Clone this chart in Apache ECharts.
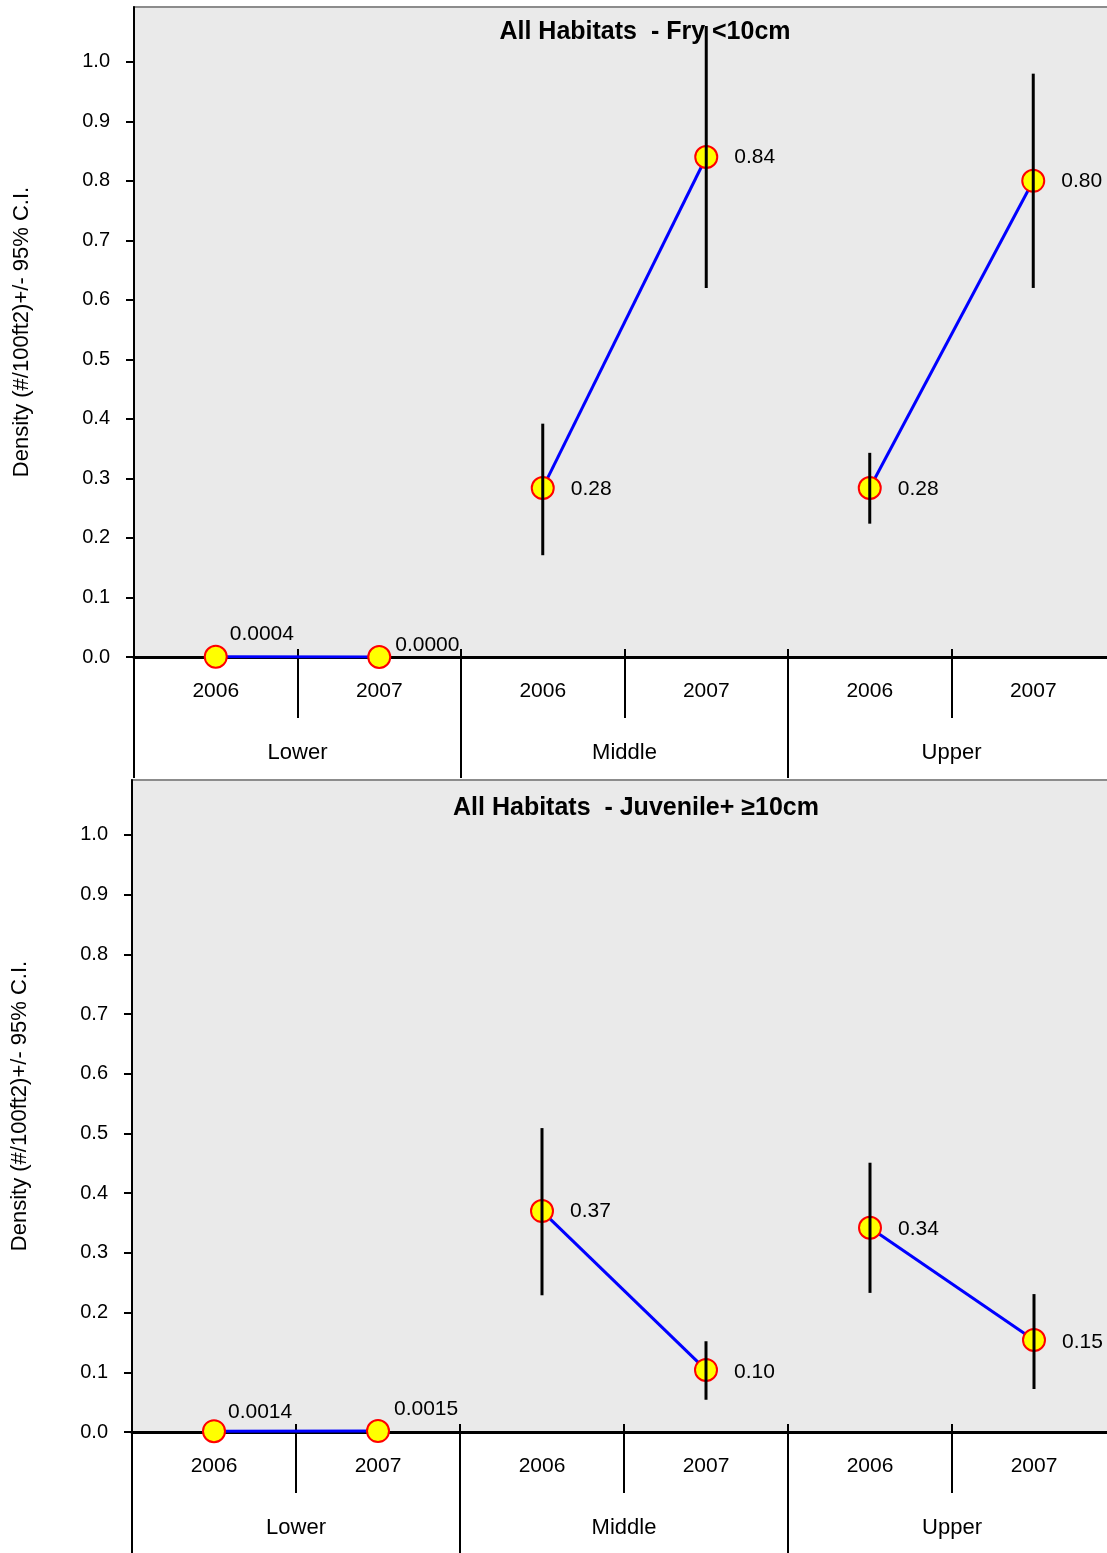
<!DOCTYPE html>
<html>
<head>
<meta charset="utf-8">
<script src="https://cdn.jsdelivr.net/npm/echarts@6/dist/echarts.min.js"></script>
<style>
html,body{margin:0;padding:0;background:#fff;overflow:hidden;}
#chart{width:1116px;height:1553px;}
</style>
</head>
<body>
<div id="chart"></div>
<script>
// ---- data ----
const categories = ['2006', '2007', '2006', '2007', '2006', '2007'];
const groups = ['Lower', 'Middle', 'Upper'];
const groupOfCategory = [0, 0, 1, 1, 2, 2];
const yTicks = [0.0, 0.1, 0.2, 0.3, 0.4, 0.5, 0.6, 0.7, 0.8, 0.9, 1.0];
const titles = ['All Habitats  - Fry <10cm', 'All Habitats  - Juvenile+ \u226510cm'];
const yAxisName = 'Density (#/100ft2)+/- 95% C.I.';

const fryMean = [0.0004, 0.0000, 0.284, 0.840, 0.284, 0.800];
const fryLow  = [null, null, 0.171, 0.620, 0.224, 0.620];
const fryHigh = [null, null, 0.392, 1.060, 0.343, 0.980];

const juvMean = [0.0014, 0.0015, 0.370, 0.104, 0.342, 0.154];
const juvLow  = [null, null, 0.229, 0.054, 0.233, 0.072];
const juvHigh = [null, null, 0.509, 0.152, 0.451, 0.231];

// ---- layout / style ----
const FONT = "'Liberation Sans', Arial, sans-serif";
const grids = [
  { left: 134, top: 7, width: 981, height: 650 },
  { left: 132, top: 780, width: 984, height: 652 }
];
const titlePos = [{ x: 640, y: 15 }, { x: 631, y: 791 }];
// label offsets: lower group labels sit above-right of the point
const labelOffsets = [
  [[2, -23], [4, -12], [16, 1], [16, 0], [16, 1], [16, 0]],
  [[2, -19], [4, -22], [16, 0], [16, 2], [16, 1], [16, 2]]
];
const YMAX = 1.092;

const panels = [
  { mean: fryMean, low: fryLow, high: fryHigh },
  { mean: juvMean, low: juvLow, high: juvHigh }
];

const option = {
  animation: false,
  backgroundColor: '#ffffff',
  textStyle: { fontFamily: FONT },
  title: titles.map((t, i) => ({
    text: t,
    left: titlePos[i].x,
    top: titlePos[i].y,
    textAlign: 'center',
    textStyle: { fontFamily: FONT, fontSize: 25, fontWeight: 'bold', color: '#000' }
  })),
  grid: grids.map(g => Object.assign({
    show: true, backgroundColor: '#EAEAEA', borderColor: '#8c8c8c', borderWidth: 2
  }, g)),
  xAxis: [],
  yAxis: [],
  series: []
};

panels.forEach((p, gi) => {
  const base = gi * 3;
  // years axis: outward ticks, labels
  option.xAxis.push({
    gridIndex: gi, type: 'category', data: categories, position: 'bottom', offset: 0,
    boundaryGap: true,
    axisLine: { show: true, onZero: false, lineStyle: { color: '#000', width: 3 } },
    axisTick: { show: true, length: 61, interval: 0, lineStyle: { color: '#000', width: 2 } },
    axisLabel: { show: true, interval: 0, margin: 24, fontSize: 21, color: '#000', fontFamily: FONT },
    splitLine: { show: false }
  });
  // years axis: short inward ticks
  option.xAxis.push({
    gridIndex: gi, type: 'category', data: categories, position: 'bottom', offset: 0,
    boundaryGap: true,
    axisLine: { show: false },
    axisTick: { show: true, inside: true, length: 8, interval: 0, lineStyle: { color: '#000', width: 2 } },
    axisLabel: { show: false },
    splitLine: { show: false }
  });
  // group axis
  option.xAxis.push({
    gridIndex: gi, type: 'category', data: groups, position: 'bottom', offset: 0,
    boundaryGap: true,
    axisLine: { show: false },
    axisTick: { show: true, length: 121, interval: 0, lineStyle: { color: '#000', width: 2 } },
    axisLabel: { show: true, interval: 0, margin: 85, fontSize: 22, color: '#000', fontFamily: FONT },
    splitLine: { show: false }
  });
  option.yAxis.push({
    gridIndex: gi, type: 'value', min: 0, max: YMAX,
    name: yAxisName, nameLocation: 'middle', nameGap: 101, nameRotate: 90,
    nameTextStyle: { fontSize: 22, color: '#000', fontFamily: FONT },
    axisLine: { show: true, lineStyle: { color: '#000', width: 2 } },
    axisTick: { show: true, length: 8, customValues: yTicks, lineStyle: { color: '#000', width: 2 } },
    axisLabel: { show: true, customValues: yTicks, margin: 24, fontSize: 20, color: '#000', fontFamily: FONT,
      formatter: v => Number(v).toFixed(1) },
    splitLine: { show: false }
  });

  // line series per group
  groups.forEach((g, k) => {
    const data = p.mean.map((v, i) => {
      if (groupOfCategory[i] !== k) return '-';
      const dec = k === 0 ? 4 : 2;
      const off = labelOffsets[gi][i];
      return {
        value: v,
        label: {
          show: true, position: 'right', distance: off[0], offset: [0, off[1]],
          formatter: () => v.toFixed(dec),
          fontSize: 21, color: '#000', fontFamily: FONT
        }
      };
    });
    option.series.push({
      type: 'line', xAxisIndex: base, yAxisIndex: gi, data: data,
      symbol: 'circle', symbolSize: 22, showAllSymbol: true,
      lineStyle: { color: '#0000FF', width: 3 },
      itemStyle: { color: '#FFFF00', borderColor: '#FF0000', borderWidth: 2 },
      z: 3
    });
  });

  // error bars
  const ebData = [];
  p.low.forEach((lo, i) => {
    if (lo !== null && p.high[i] !== null) ebData.push([i, lo, p.high[i]]);
  });
  option.series.push({
    type: 'custom', xAxisIndex: base, yAxisIndex: gi, data: ebData, z: 5,
    renderItem: (params, api) => {
      const a = api.coord([api.value(0), api.value(1)]);
      const b = api.coord([api.value(0), api.value(2)]);
      return {
        type: 'line',
        shape: { x1: a[0], y1: a[1], x2: b[0], y2: b[1] },
        style: { stroke: '#000', lineWidth: 3 }
      };
    }
  });
});

const chart = echarts.init(document.getElementById('chart'), null, { renderer: 'canvas' });
chart.setOption(option);
</script>
</body>
</html>
